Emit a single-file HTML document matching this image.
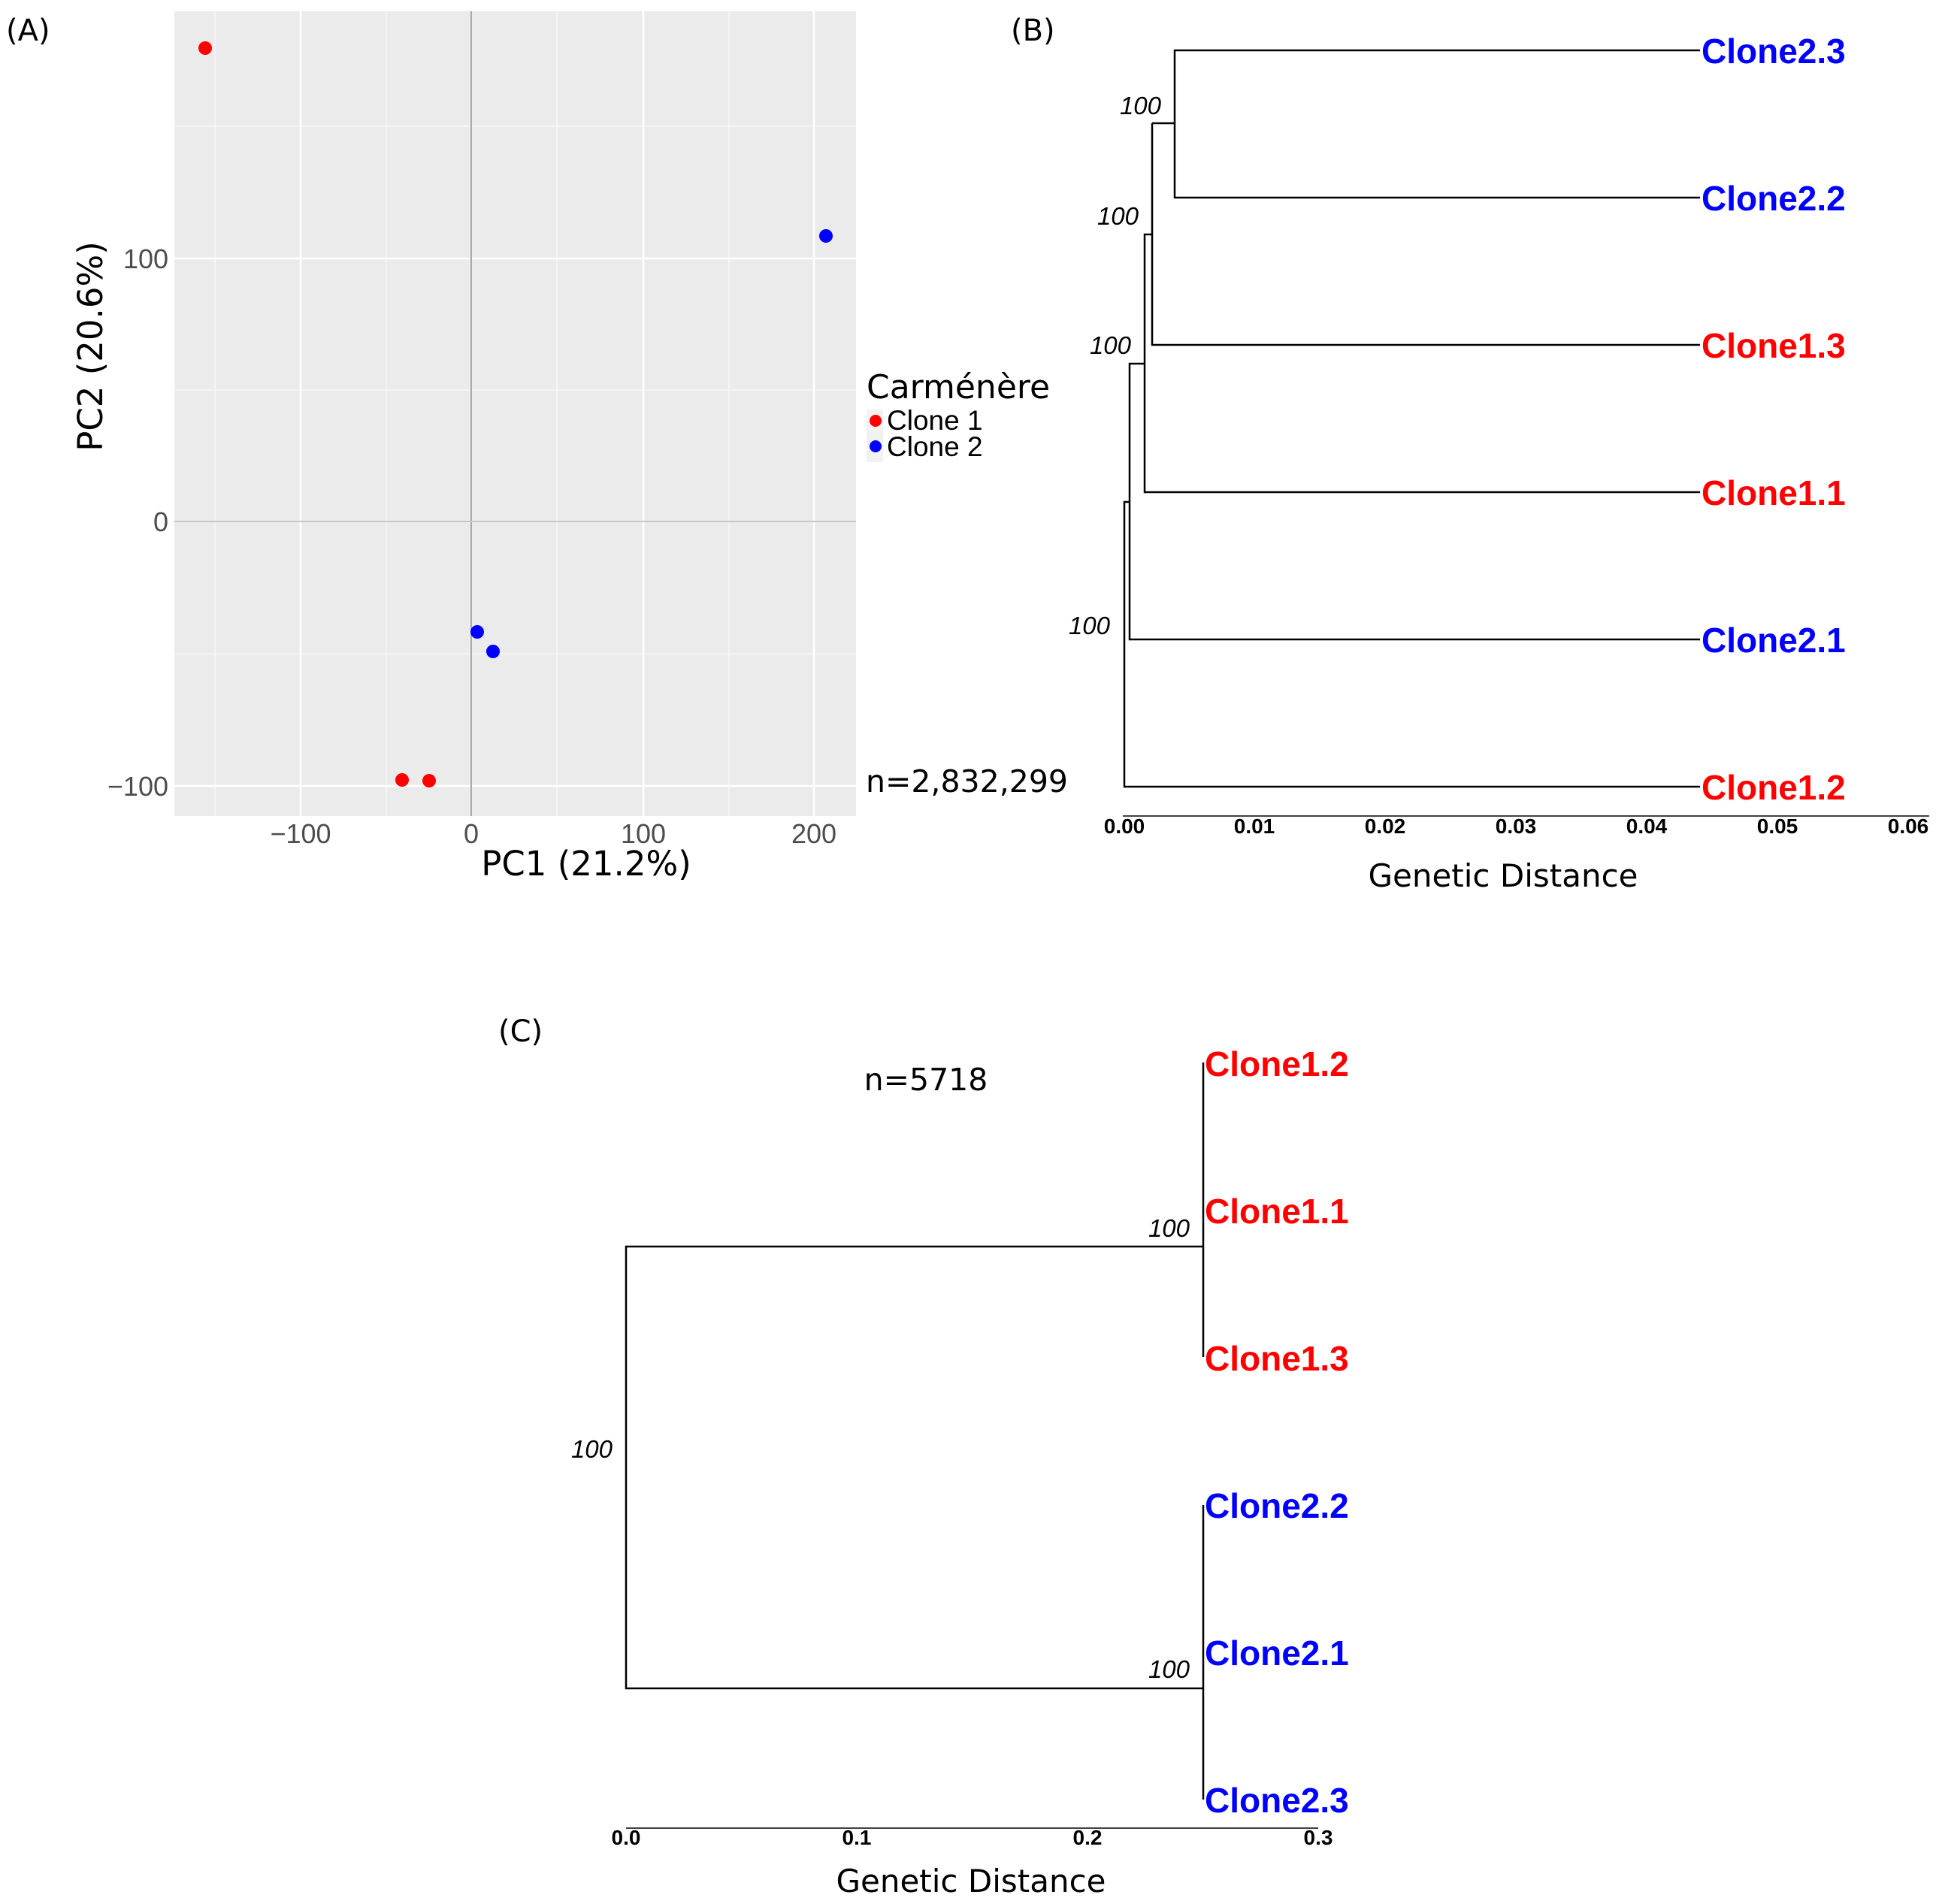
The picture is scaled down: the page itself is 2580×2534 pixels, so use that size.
<!DOCTYPE html>
<html><head><meta charset="utf-8"><style>
html,body{margin:0;padding:0;background:#fff;}
svg{display:block;}
.dv{font-family:"DejaVu Sans","Liberation Sans",sans-serif;}
.ar{font-family:"Liberation Sans",sans-serif;}
</style></head><body>
<svg width="2580" height="2534" viewBox="0 0 2580 2534" xmlns="http://www.w3.org/2000/svg">
<!-- Panel A -->
<rect x="232" y="15" width="907" height="1071" fill="#ebebeb"/>
<g stroke="#f7f7f7" stroke-width="1.5">
<line x1="286" y1="15" x2="286" y2="1086"/><line x1="514" y1="15" x2="514" y2="1086"/><line x1="741" y1="15" x2="741" y2="1086"/><line x1="970" y1="15" x2="970" y2="1086"/>
<line x1="232" y1="168" x2="1139" y2="168"/><line x1="232" y1="519" x2="1139" y2="519"/><line x1="232" y1="870" x2="1139" y2="870"/>
</g>
<g stroke="#ffffff" stroke-width="2.5">
<line x1="400" y1="15" x2="400" y2="1086"/><line x1="856" y1="15" x2="856" y2="1086"/><line x1="1083" y1="15" x2="1083" y2="1086"/>
<line x1="232" y1="344" x2="1139" y2="344"/><line x1="232" y1="1046" x2="1139" y2="1046"/>
</g>
<line x1="627" y1="15" x2="627" y2="1086" stroke="#a8a8a8" stroke-width="2"/>
<line x1="232" y1="694" x2="1139" y2="694" stroke="#c8c8c8" stroke-width="2"/>
<g fill="#ff0000"><circle cx="273" cy="64" r="9"/><circle cx="535" cy="1038" r="9"/><circle cx="571" cy="1039" r="9"/></g>
<g fill="#0000ff"><circle cx="1099" cy="314" r="9"/><circle cx="635" cy="841" r="9"/><circle cx="656" cy="867" r="9"/></g>
<g class="ar" font-size="36" fill="#4d4d4d">
<text x="224" y="357" text-anchor="end">100</text>
<text x="224" y="707" text-anchor="end">0</text>
<text x="224" y="1059" text-anchor="end">−100</text>
<text x="400" y="1122" text-anchor="middle">−100</text>
<text x="627" y="1122" text-anchor="middle">0</text>
<text x="856" y="1122" text-anchor="middle">100</text>
<text x="1083" y="1122" text-anchor="middle">200</text>
</g>
<text class="dv" x="780" y="1165" text-anchor="middle" font-size="45">PC1 (21.2%)</text>
<text class="dv" transform="translate(136,461) rotate(-90)" text-anchor="middle" font-size="45">PC2 (20.6%)</text>
<text class="dv" x="1153" y="530" font-size="44">Carménère</text>
<rect x="1153" y="545" width="22" height="70" fill="#f2f2f2"/>
<circle cx="1165" cy="560" r="8" fill="#ff0000"/><circle cx="1165" cy="594" r="8" fill="#0000ff"/>
<text class="ar" x="1180" y="572" font-size="37">Clone  1</text>
<text class="ar" x="1180" y="607" font-size="37">Clone  2</text>
<text class="dv" x="1152" y="1054" font-size="41">n=2,832,299</text>
<text class="dv" x="8" y="54" font-size="40">(A)</text>
<text class="dv" x="1345" y="54" font-size="40">(B)</text>
<!-- Panel B -->
<g stroke="#000" stroke-width="2.5" fill="none">
<polyline points="2262,67 1563,67 1563,263 2262,263"/>
<polyline points="1563,164 1533,164"/>
<polyline points="1533,164 1533,459 2262,459"/>
<polyline points="1533,312 1523,312 1523,655 2262,655"/>
<polyline points="1523,484 1503,484 1503,851 2262,851"/>
<polyline points="1503,668 1496,668 1496,1047 2262,1047"/>
</g>
<line x1="1494" y1="1086" x2="2567" y2="1086" stroke="#000" stroke-width="1.5"/>
<g class="ar" font-weight="bold" font-size="28" text-anchor="middle">
<text x="1496" y="1109">0.00</text><text x="1669" y="1109">0.01</text><text x="1843" y="1109">0.02</text><text x="2017" y="1109">0.03</text><text x="2191" y="1109">0.04</text><text x="2365" y="1109">0.05</text><text x="2539" y="1109">0.06</text>
</g>
<text class="dv" x="2000" y="1180" text-anchor="middle" font-size="42">Genetic Distance</text>
<g class="ar" font-style="italic" font-size="33" text-anchor="end">
<text x="1545" y="152">100</text><text x="1515" y="299">100</text><text x="1505" y="471">100</text><text x="1477" y="844">100</text>
</g>
<g class="ar" font-weight="bold" font-size="46">
<text x="2264" y="84" fill="#0000ff">Clone2.3</text>
<text x="2264" y="280" fill="#0000ff">Clone2.2</text>
<text x="2264" y="476" fill="#ff0000">Clone1.3</text>
<text x="2264" y="672" fill="#ff0000">Clone1.1</text>
<text x="2264" y="868" fill="#0000ff">Clone2.1</text>
<text x="2264" y="1064" fill="#ff0000">Clone1.2</text>
</g>
<!-- Panel C -->
<text class="dv" x="663" y="1386" font-size="40">(C)</text>
<text class="dv" x="1232" y="1451" text-anchor="middle" font-size="41">n=5718</text>
<g stroke="#000" stroke-width="2.5" fill="none">
<polyline points="1601,1659 833,1659 833,2247 1601,2247"/>
<line x1="1601" y1="1414" x2="1601" y2="1806"/>
<line x1="1601" y1="2003" x2="1601" y2="2395"/>
</g>
<line x1="833" y1="2433" x2="1754" y2="2433" stroke="#000" stroke-width="1.5"/>
<g class="ar" font-weight="bold" font-size="28" text-anchor="middle">
<text x="833" y="2455">0.0</text><text x="1140" y="2455">0.1</text><text x="1447" y="2455">0.2</text><text x="1754" y="2455">0.3</text>
</g>
<text class="dv" x="1292" y="2518" text-anchor="middle" font-size="42">Genetic Distance</text>
<g class="ar" font-style="italic" font-size="33" text-anchor="end">
<text x="1583" y="1646">100</text><text x="1583" y="2233">100</text><text x="815" y="1940">100</text>
</g>
<g class="ar" font-weight="bold" font-size="46">
<text x="1603" y="1432" fill="#ff0000">Clone1.2</text>
<text x="1603" y="1628" fill="#ff0000">Clone1.1</text>
<text x="1603" y="1824" fill="#ff0000">Clone1.3</text>
<text x="1603" y="2020" fill="#0000ff">Clone2.2</text>
<text x="1603" y="2216" fill="#0000ff">Clone2.1</text>
<text x="1603" y="2412" fill="#0000ff">Clone2.3</text>
</g>
</svg>
</body></html>
